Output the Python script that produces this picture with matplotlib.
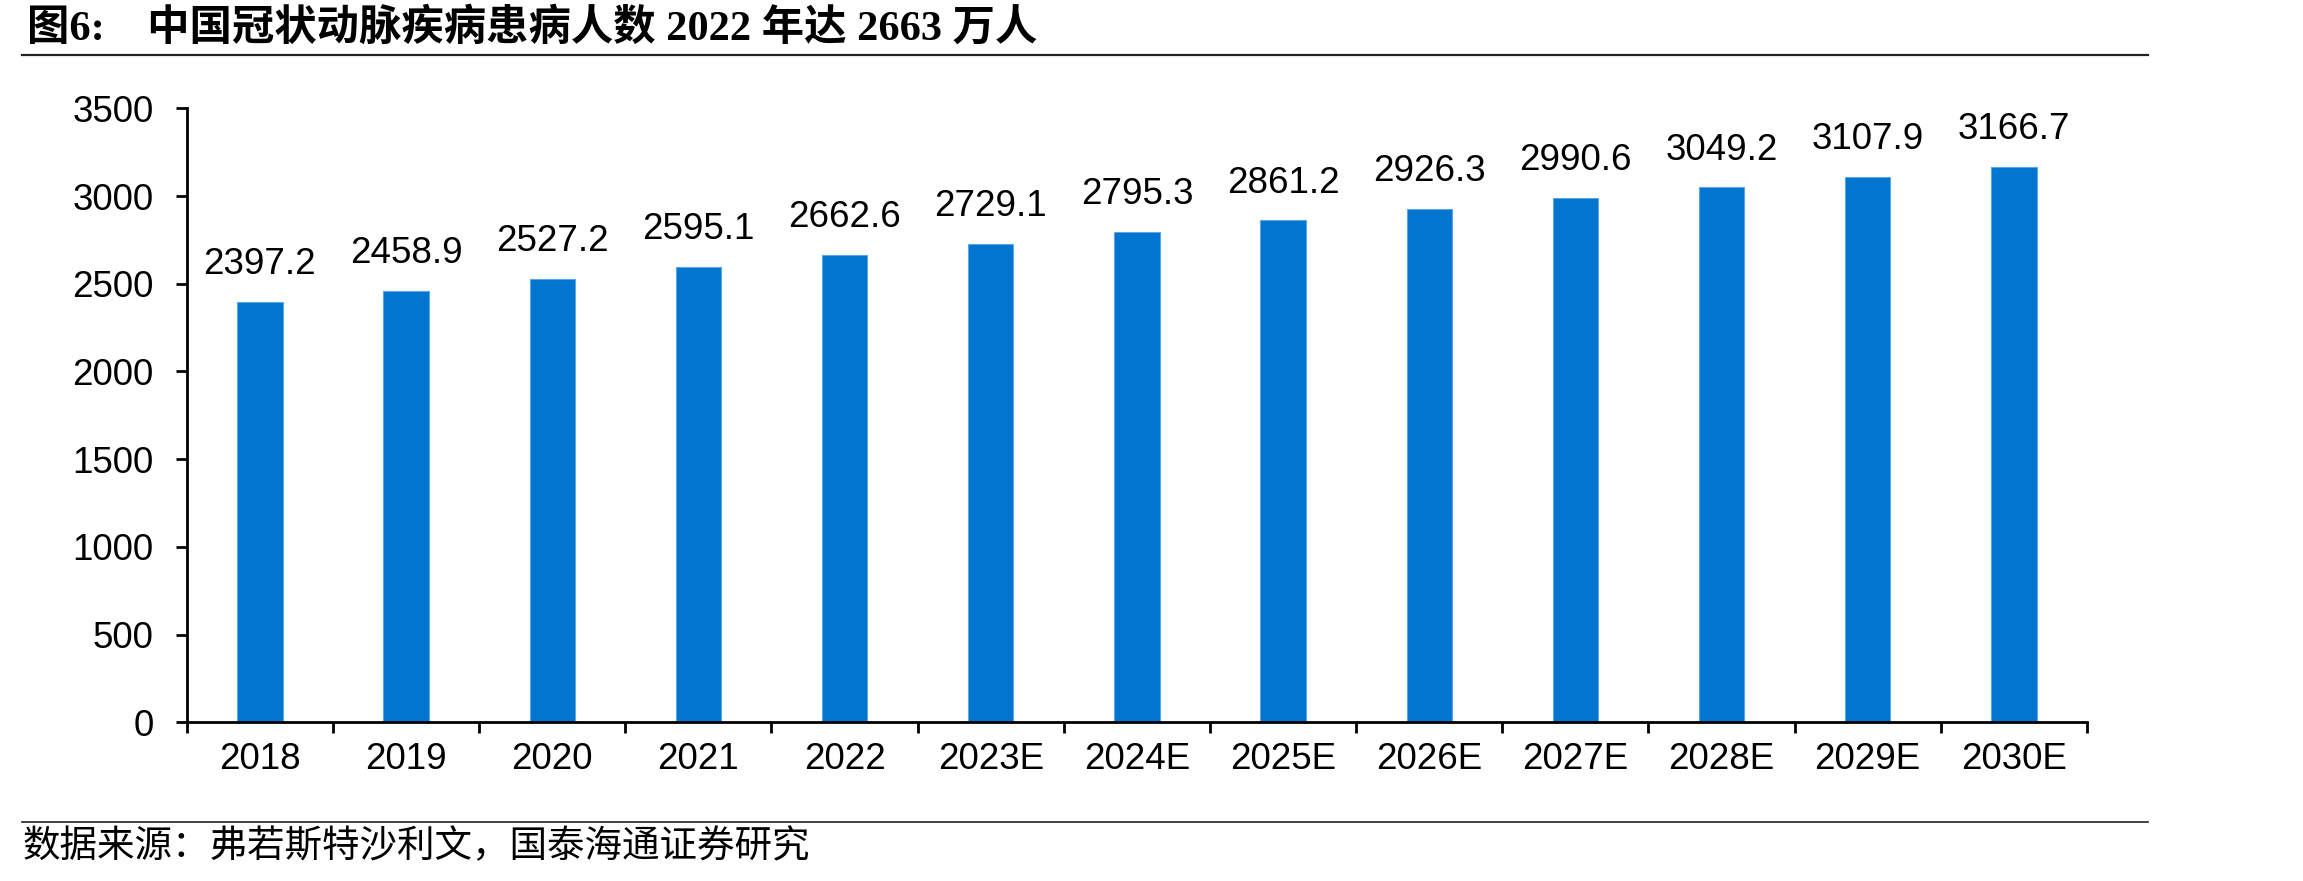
import matplotlib
matplotlib.use("Agg")
import matplotlib.pyplot as plt
from matplotlib.lines import Line2D
import numpy as np

# 数据
years = ["2018", "2019", "2020", "2021", "2022", "2023E", "2024E", "2025E",
         "2026E", "2027E", "2028E", "2029E", "2030E"]
patients = [2397.2, 2458.9, 2527.2, 2595.1, 2662.6, 2729.1, 2795.3, 2861.2,
            2926.3, 2990.6, 3049.2, 3107.9, 3166.7]
y_ticks = [0, 500, 1000, 1500, 2000, 2500, 3000, 3500]

title = "图6:\u3000中国冠状动脉疾病患病人数 2022 年达 2663 万人"
source = "数据来源：弗若斯特沙利文，国泰海通证券研究"

plt.rcParams['font.family'] = ['Liberation Sans', 'Noto Sans CJK SC']

fig = plt.figure(figsize=(23.03, 8.81), dpi=100)
ax = fig.add_axes([0.0811, 0.1801, 0.9062 - 0.0811, 0.877 - 0.1801])

x = np.arange(len(years))
bars = ax.bar(x, patients, width=0.31, color='#0275D0',
              edgecolor='#5DA6E3', linewidth=0.8)

for xi, v in zip(x, patients):
    ax.annotate(f"{v:.1f}", (xi, v), xytext=(0, 20), textcoords='offset points',
                ha='center', va='baseline', fontsize=26.5)

ax.set_xlim(-0.5, len(years) - 0.5)
ax.set_ylim(0, 3500)
ax.set_yticks(y_ticks)
ax.set_yticklabels([str(t) for t in y_ticks])

# 刻度线在类别边界，标签在中间
ax.set_xticks(np.arange(len(years) + 1) - 0.5)
ax.set_xticklabels([])
ax.set_xticks(x, minor=True)
ax.set_xticklabels(years, minor=True)
ax.tick_params(axis='x', which='major', length=8, width=2, direction='out')
ax.tick_params(axis='x', which='minor', length=0, pad=14, labelsize=26.5)
ax.tick_params(axis='y', length=8, width=2, direction='out', pad=16, labelsize=26.5)

for s in ['top', 'right']:
    ax.spines[s].set_visible(False)
for s in ['left', 'bottom']:
    ax.spines[s].set_linewidth(2)

# 标题与来源
fig.text(0.0117, 0.9546, title, fontsize=30.5, fontweight='bold',
         family=['Liberation Serif', 'Noto Sans CJK SC'], va='baseline', ha='left')
fig.add_artist(Line2D([0.0096, 0.9327], [0.9376, 0.9376], color='#222222', lw=1.6))
fig.add_artist(Line2D([0.0096, 0.9327], [0.0673, 0.0673], color='#222222', lw=1.2))
fig.text(0.0096, 0.0386, source, fontsize=27,
         family=['Noto Sans CJK SC'], va='center', ha='left')

fig.savefig("out.png", dpi=100)
